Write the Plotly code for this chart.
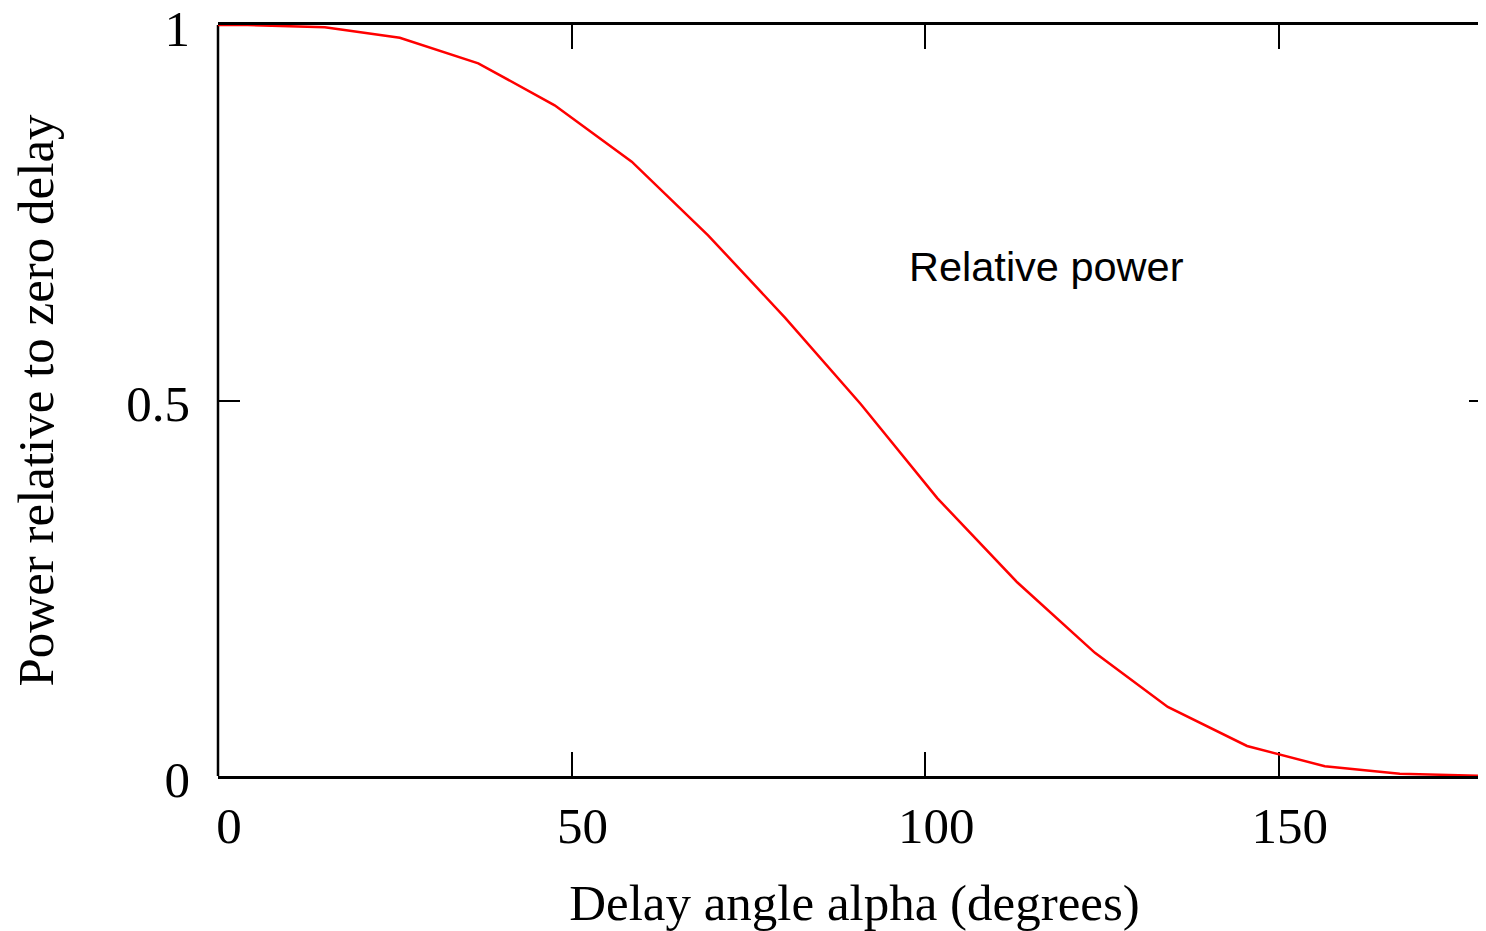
import plotly.graph_objects as go

# Delay angle alpha (degrees) and power relative to zero delay
alpha_deg = [0.0, 4.2, 15.1, 25.7, 36.8, 47.6, 58.5, 69.3, 80.2, 90.9,
             101.7, 113.0, 124.0, 134.3, 145.5, 156.5, 167.1, 180.0]
rel_power = [1.000, 1.000, 0.997, 0.983, 0.949, 0.893, 0.818, 0.720, 0.610, 0.495,
             0.370, 0.258, 0.164, 0.092, 0.040, 0.013, 0.003, 0.000]

x_ticks = [0, 50, 100, 150]
y_ticks = [0, 0.5, 1]
y_tick_text = ["0", "0.5", "1"]

serif = "Liberation Serif, Times New Roman, serif"
sans = "Liberation Sans, Arial, sans-serif"

fig = go.Figure()
fig.add_trace(go.Scatter(
    x=alpha_deg, y=rel_power, mode="lines",
    line=dict(color="#ff0000", width=2.5),
    showlegend=False, hoverinfo="skip",
))

fig.add_annotation(
    x=97.4, y=0.679, xref="x", yref="y",
    text="Relative power", showarrow=False,
    xanchor="left", yanchor="middle",
    font=dict(family=sans, size=41.5, color="black"),
)

# left frame line (right side has no visible line)
fig.add_shape(type="line", xref="paper", yref="paper", x0=0, x1=0, y0=0, y1=1,
              line=dict(color="black", width=2.5), layer="below")

fig.update_layout(
    width=1486, height=931, autosize=False,
    margin=dict(l=210, r=3, t=17, b=163),
    paper_bgcolor="white", plot_bgcolor="white",
    font=dict(family=serif, size=51, color="black"),
    xaxis=dict(
        range=[0, 180], tickvals=x_ticks, ticktext=[str(v) for v in x_ticks],
        ticks="inside", ticklen=24, tickwidth=2, tickcolor="black",
        showline=True, linecolor="black", linewidth=2.5, mirror="ticks",
        showgrid=False, zeroline=False, layer="below traces", automargin=False,
        ticklabelstandoff=3, ticklabelshift=11, ticklabeloverflow="allow",
        title=dict(text="Delay angle alpha (degrees)", standoff=32,
                   font=dict(family=serif, size=51)),
        tickfont=dict(family=serif, size=51),
    ),
    yaxis=dict(
        range=[0, 1], tickvals=y_ticks, ticktext=y_tick_text,
        ticks="inside", ticklen=22, tickwidth=2, tickcolor="black",
        showline=False, mirror="ticks",
        showgrid=False, zeroline=False, layer="below traces", automargin=False,
        ticklabelstandoff=27, ticklabelshift=3, ticklabeloverflow="allow",
        title=dict(text="Power relative to zero delay", standoff=58,
                   font=dict(family=serif, size=51)),
        tickfont=dict(family=serif, size=51),
    ),
)

fig.write_html("out.html")
